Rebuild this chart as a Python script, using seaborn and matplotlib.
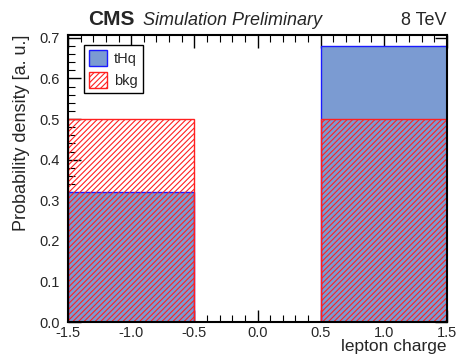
import matplotlib
matplotlib.use("Agg")
import matplotlib.pyplot as plt
import numpy as np
import pandas as pd
import seaborn as sns
from matplotlib.ticker import MultipleLocator, FormatStrFormatter

sns.set_theme(style="white")
plt.rcParams["font.family"] = ["Liberation Sans", "DejaVu Sans"]
plt.rcParams["hatch.linewidth"] = 0.8
plt.rcParams["hatch.color"] = "#ff2020"

bin_edges = [-1.5, -0.5, 0.5, 1.5]
bin_centers = [-1.0, 0.0, 1.0]
thq_values = [0.32, 0.0, 0.68]
bkg_values = [0.5, 0.0, 0.5]

df = pd.DataFrame({
    "charge": bin_centers * 2,
    "density": thq_values + bkg_values,
    "sample": ["tHq"] * 3 + ["bkg"] * 3,
})

fig, ax = plt.subplots(figsize=(4.57, 3.57), dpi=100)
fig.subplots_adjust(left=0.149, right=0.978, top=0.902, bottom=0.098)

sns.histplot(
    data=df[df["sample"] == "tHq"], x="charge", weights="density",
    bins=bin_edges, ax=ax, color="#7b9bd2", edgecolor="#1a1aff",
    alpha=1, linewidth=1.0, label="tHq",
)
sns.histplot(
    data=df[df["sample"] == "bkg"], x="charge", weights="density",
    bins=bin_edges, ax=ax, fill=False, color="#ff2020", edgecolor="#ff2020",
    hatch="//////", linewidth=1.0, label="bkg",
)
for p in ax.patches[3:]:
    p.set_edgecolor("#ff2020")

ax.set_xlim(-1.5, 1.5)
ax.set_ylim(0, 0.707)
ax.xaxis.set_major_locator(MultipleLocator(0.5))
ax.xaxis.set_minor_locator(MultipleLocator(0.1))
ax.yaxis.set_major_locator(MultipleLocator(0.1))
ax.yaxis.set_minor_locator(MultipleLocator(0.02))
ax.xaxis.set_major_formatter(FormatStrFormatter("%.1f"))
ax.yaxis.set_major_formatter(FormatStrFormatter("%.1f"))
ax.tick_params(which="both", direction="in", top=True, right=True,
               bottom=True, left=True, labelsize=10.5, color="black")
ax.tick_params(axis="x", pad=3)
ax.tick_params(axis="y", pad=6)
ax.tick_params(which="major", length=9, width=1)
ax.tick_params(which="minor", length=5, width=0.8)
for s in ax.spines.values():
    s.set_color("black")
    s.set_linewidth(1.5)

ax.set_xlabel("lepton charge", fontsize=12.5, loc="right", labelpad=-1)
ax.set_ylabel("Probability density [a. u.]", fontsize=13, loc="top", labelpad=7)

leg = ax.legend(loc="upper left", bbox_to_anchor=(0.035, 0.975), fontsize=10.5,
                frameon=True, fancybox=False, edgecolor="black",
                handlelength=1.2, handleheight=1.3, borderpad=0.35,
                labelspacing=0.4, handletextpad=0.5, borderaxespad=0.2)
leg.get_frame().set_linewidth(1.0)
leg.get_frame().set_alpha(1)

ax.text(0.053, 1.02, "CMS", transform=ax.transAxes, fontsize=15,
        fontweight="bold", ha="left", va="bottom")
ax.text(0.198, 1.02, "Simulation Preliminary", transform=ax.transAxes,
        fontsize=13, style="italic", ha="left", va="bottom")
ax.text(1.0, 1.02, "8 TeV", transform=ax.transAxes, fontsize=13,
        ha="right", va="bottom")

fig.savefig("out.png", dpi=100)
